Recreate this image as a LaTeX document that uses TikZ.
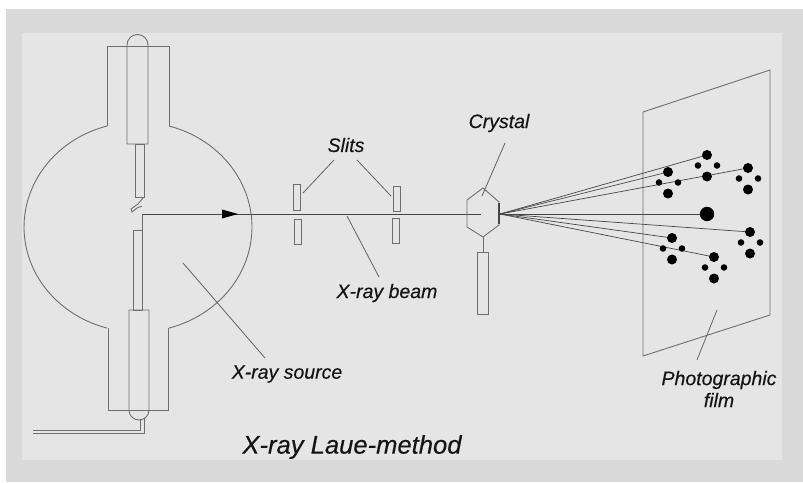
\documentclass[tikz,border=0pt]{standalone}
\usepackage{fontspec}
\setmainfont{Liberation Sans}
\newfontfamily\labelfont[FakeBold=0.3]{Liberation Sans}
\definecolor{framegray}{HTML}{D9D9D9}
\definecolor{panelgray}{HTML}{E5E5E5}
\definecolor{linegray}{HTML}{6E6E6E}
\definecolor{raygray}{HTML}{454545}
\definecolor{inkblack}{HTML}{141414}
\begin{document}
\begin{tikzpicture}[x=1pt,y=-1pt,
  outline/.style={draw=linegray, line width=0.9pt},
  ray/.style={draw=raygray, line width=0.7pt},
  leader/.style={draw=raygray!85, line width=0.8pt},
  lbl/.style={font=\labelfont\fontsize{19.5}{22}\selectfont\itshape, text=inkblack, inner sep=0pt},
  titlelbl/.style={font=\labelfont\fontsize{25.6}{30}\selectfont\itshape, text=inkblack, inner sep=0pt},
  spotfill/.style={fill=black}
]
% page, frame and panel
\useasboundingbox (0,0) rectangle (803,482);
\fill[white] (0,0) rectangle (803,482);
\fill[framegray] (6,9) rectangle (803,482);
\fill[panelgray] (22,33) rectangle (782,460);

% ---- X-ray tube ----
% bulb (two arcs between the necks)
\draw[outline] (169,126) arc[start angle=74.2, end angle=-74.2, x radius=114pt, y radius=105pt];
\draw[outline] (107,126) arc[start angle=105.8, end angle=254.2, x radius=114pt, y radius=105pt];
% necks
\draw[outline] (107,126) -- (107,46) -- (169,46) -- (169,126);
\draw[outline] (108,328) -- (108,410) -- (168,410) -- (168,328);
% upper electrode tube with rounded cap
\draw[outline] (127,144) -- (127,45) arc[start angle=180, end angle=0, radius=10.5pt] -- (148,144) -- cycle;
\draw[outline] (135,144) rectangle (144,197);
% filament
\draw[outline] (143,198) -- (138,204) -- (131,209) -- (132,212) -- (137,208) -- (142,206);
% lower electrode tube with rounded cap
\draw[outline] (129,310) -- (129,410) arc[start angle=180, end angle=360, radius=10pt] -- (149,310) -- cycle;
\draw[outline] (133,230) rectangle (142,310);
% supply wires
\draw[outline] (140,419) -- (140,430) -- (33,430);
\draw[outline] (144,418) -- (144,433) -- (33,433);

% ---- beam ----
\coordinate (src) at (142,214);
\coordinate (xtal) at (481,214);
\draw[outline] (src) -- (142,230);
\draw[draw=raygray, line width=0.9pt] (src) -- (xtal);
\fill[black] (222,209.5) -- (238,214) -- (222,218.5) -- cycle;

% ---- slits ----
\draw[outline] (293,184) rectangle (300,210);
\draw[outline] (294,219) rectangle (301,244);
\draw[outline] (393,186) rectangle (400,211);
\draw[outline] (392,218) rectangle (399,243);

% ---- crystal on its holder ----
\draw[outline] (483,188) -- (499,202) -- (499,225) -- (483,237) -- (467,227) -- (467,200) -- cycle;
\draw[draw=raygray, line width=1.2pt] (499,203) -- (499,224);
\draw[outline] (483,237) -- (483,252);
\draw[outline] (477,252) rectangle (488,314);

% ---- photographic film ----
\draw[outline] (643,112) -- (770,70) -- (770,315) -- (643,356) -- cycle;

% ---- diffraction spots ----
\coordinate (xo) at (500,214);
\foreach \n/\cx/\cy in {A/668/172, B/707/155, C/748/168, D/750/232, E/672/238, F/714/257}{
  \coordinate (s\n) at (\cx,\cy);
}
\coordinate (sM) at (707,214);
\foreach \t in {sA,sB,sC,sD,sE,sF,sM}{
  \draw[ray] (xo) -- (\t);
}
\foreach \cx/\cy in {668/172, 707/155, 748/168, 750/232, 672/238, 714/257}{
  \fill[spotfill] (\cx,\cy) circle[radius=5pt];
  \fill[spotfill] (\cx,\cy+21.5) circle[radius=5pt];
  \fill[spotfill] (\cx-9,\cy+10.5) circle[radius=3.3pt];
  \fill[spotfill] (\cx+10,\cy+10.5) circle[radius=3.3pt];
}
\fill[spotfill] (sM) circle[radius=7.2pt];

% ---- labels and leaders ----
\node[lbl] (slits) at (346,145) {Slits};
\coordinate (slitA) at (303,193);
\coordinate (slitB) at (391,196);
\draw[leader] (334,160) -- (slitA);
\draw[leader] (357,160) -- (slitB);

\node[lbl] (beam) at (387,293) {X-ray beam};
\coordinate (beampt) at (347,216);
\draw[leader] (379,277) -- (beampt);

\node[lbl] (crystal) at (499,123) {Crystal};
\coordinate (xtalpt) at (482,196);
\draw[leader] (505,143) -- (xtalpt);

\node[lbl] (source) at (287,374) {X-ray source};
\coordinate (srcpt) at (183,263);
\draw[leader] (265,358) -- (srcpt);

\node[lbl, align=center] (film) at (719,389) {Photographic\\film};
\coordinate (filmpt) at (717,310);
\draw[leader] (697,360) -- (filmpt);

\node[titlelbl] (title) at (352,447) {X-ray Laue-method};
\end{tikzpicture}
\end{document}
